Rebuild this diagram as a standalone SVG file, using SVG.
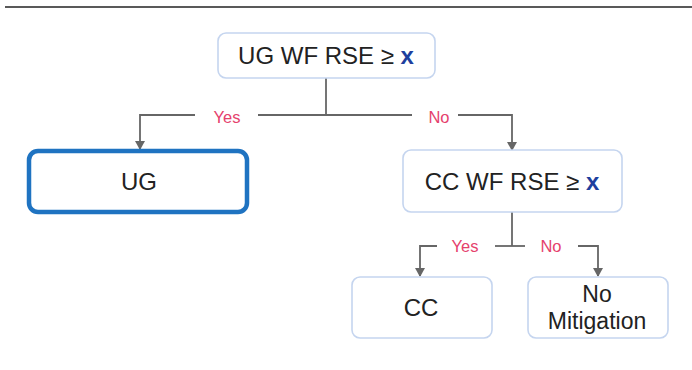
<svg xmlns="http://www.w3.org/2000/svg" width="692" height="370" viewBox="0 0 692 370">
<defs>
<marker id="arr" markerWidth="9" markerHeight="10" refX="8" refY="5" orient="auto" markerUnits="userSpaceOnUse" viewBox="0 0 9 10">
<path d="M0,0 L9,5 L0,10 Z" fill="#666"/>
</marker>
</defs>
<style>
.box{fill:#fff;stroke:#c5d5ef;stroke-width:1.6}
.sel{fill:#fff;stroke:#1f73c1;stroke-width:4.5}
.t{font-family:"Liberation Sans",Arial,sans-serif;font-size:24px;fill:#222;text-anchor:middle}
.t2{font-family:"Liberation Sans",Arial,sans-serif;font-size:23px;fill:#222;text-anchor:middle}
.x{fill:#1e3f9e;font-weight:bold}
.lbl{font-family:"Liberation Sans",Arial,sans-serif;font-size:16.5px;fill:#e5416d;text-anchor:middle}
.c{fill:none;stroke:#666;stroke-width:1.8}
</style>
<rect width="692" height="370" fill="#fff"/>
<line x1="5" y1="7" x2="692" y2="7" stroke="#222" stroke-width="1.5"/>
<g id="connectors">
<path class="c" d="M326,78 V115"/>
<path class="c" d="M258,115 H412"/>
<path class="c" d="M195,115 H140 V149" marker-end="url(#arr)"/>
<path class="c" d="M458,115 H512 V150" marker-end="url(#arr)"/>
<path class="c" d="M512,212 V246"/>
<path class="c" d="M495,246 H525"/>
<path class="c" d="M437,246 H420 V276" marker-end="url(#arr)"/>
<path class="c" d="M578,246 H598 V276" marker-end="url(#arr)"/>
<text class="lbl" x="227" y="123">Yes</text>
<text class="lbl" x="439" y="123">No</text>
<text class="lbl" x="465" y="252">Yes</text>
<text class="lbl" x="551" y="252">No</text>
</g>
<g id="n1">
<rect class="box" x="218" y="33" width="217" height="45" rx="8"/>
<text class="t" x="326" y="64">UG WF RSE ≥ <tspan class="x">x</tspan></text>
</g>
<g id="n2">
<rect class="sel" x="29" y="151" width="218" height="61" rx="9"/>
<text class="t" x="139" y="190">UG</text>
</g>
<g id="n3">
<rect class="box" x="403" y="150" width="219" height="62" rx="8"/>
<text class="t" x="512" y="190">CC WF RSE ≥ <tspan class="x">x</tspan></text>
</g>
<g id="n4">
<rect class="box" x="352" y="277" width="140" height="61" rx="8"/>
<text class="t" x="421" y="316">CC</text>
</g>
<g id="n5">
<rect class="box" x="528" y="277" width="140" height="61" rx="8"/>
<text class="t2" x="597" y="302">No</text>
<text class="t2" x="597" y="329">Mitigation</text>
</g>
</svg>
